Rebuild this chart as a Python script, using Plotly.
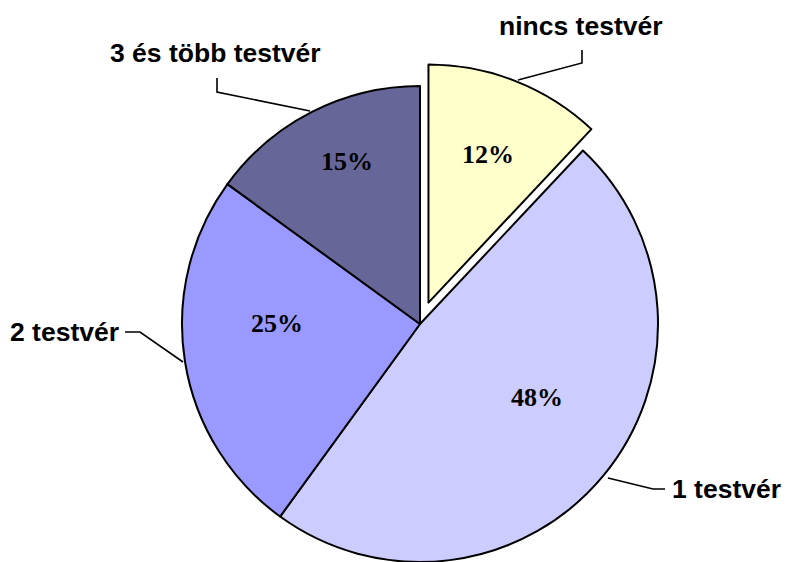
import math
import plotly.graph_objects as go

# ---- data ----
categories = ["nincs testvér", "1 testvér", "2 testvér", "3 és több testvér"]
values = [12, 48, 25, 15]
pct_labels = ["12%", "48%", "25%", "15%"]

# ---- style / layout constants ----
W, H = 786, 562
colors = ["#FFFFCC", "#CCCCFF", "#9999FF", "#666699"]
CX, CY, R = 420.0, 324.0, 238.0           # main pie centre / radius (px)
PULL_PX = 23.0                            # exploded distance of first slice (px)
EDGE = "black"
EDGE_W = 2.0
TRANSPARENT = "rgba(0,0,0,0)"

total = sum(values)
# mid angle of the exploded slice (clockwise from 12 o'clock)
mid0 = math.radians(values[0] / total * 360 / 2)
PCX = CX + PULL_PX * math.sin(mid0)
PCY = CY - PULL_PX * math.cos(mid0)


def domain(cx, cy, r):
    return dict(x=[max(0, (cx - r) / W), min(1, (cx + r) / W)],
                y=[max(0, (H - (cy + r)) / H), min(1, (H - (cy - r)) / H)])


def px(x, y):
    # pixel -> paper coords
    return x / W, (H - y) / H


fig = go.Figure()
# main pie (exploded slice hidden)
fig.add_trace(go.Pie(
    labels=categories, values=values, sort=False, direction="clockwise",
    rotation=0, textinfo="none", hoverinfo="label+percent",
    marker=dict(colors=[TRANSPARENT] + colors[1:],
                line=dict(color=[TRANSPARENT, EDGE, EDGE, EDGE],
                          width=[0, EDGE_W, EDGE_W, EDGE_W])),
    domain=domain(CX, CY, R), showlegend=False,
))
# exploded slice
fig.add_trace(go.Pie(
    labels=categories, values=values, sort=False, direction="clockwise",
    rotation=0, textinfo="none", hoverinfo="label+percent",
    marker=dict(colors=[colors[0]] + [TRANSPARENT] * 3,
                line=dict(color=[EDGE] + [TRANSPARENT] * 3,
                          width=[EDGE_W, 0, 0, 0])),
    domain=domain(PCX, PCY, R), showlegend=False,
))

# percentage labels (pixel anchor positions)
pct_pos = [(488, 154), (537, 397), (277, 323), (347, 162)]
annotations = []
for txt, (x, y) in zip(pct_labels, pct_pos):
    ax, ay = px(x, y)
    annotations.append(dict(
        x=ax, y=ay, xref="paper", yref="paper", text=txt, showarrow=False,
        xanchor="center", yanchor="middle",
        font=dict(family="Liberation Serif, Times New Roman, serif", size=26,
                  color="black", weight="bold")))

# category labels with leader lines
cat_pos = [(580.5, 26, "center"), (670, 489, "left"), (121, 332, "right"),
           (215.5, 53, "center")]
for txt, (x, y, anc) in zip(categories, cat_pos):
    ax, ay = px(x, y)
    annotations.append(dict(
        x=ax, y=ay, xref="paper", yref="paper", text=txt, showarrow=False,
        xanchor=anc, yanchor="middle",
        font=dict(family="Liberation Sans, Arial, sans-serif", size=26.5,
                  color="black", weight="bold")))

leaders = [
    [(518, 80), (582, 63), (582, 50)],
    [(608, 478), (653, 489), (665, 489)],
    [(125, 332), (140, 332), (183, 362)],
    [(217, 78), (217, 92), (310, 111)],
]
shapes = []
for pts in leaders:
    path = ""
    for i, (x, y) in enumerate(pts):
        a, b = px(x, y)
        path += ("M" if i == 0 else "L") + f"{a:.5f},{b:.5f} "
    shapes.append(dict(type="path", path=path.strip(), xref="paper",
                       yref="paper", line=dict(color="black", width=1.6)))

fig.update_layout(
    width=W, height=H, margin=dict(l=0, r=0, t=0, b=0),
    paper_bgcolor="white", plot_bgcolor="white",
    annotations=annotations, shapes=shapes,
)
fig.write_html(
    "out.html",
    config={"displayModeBar": False},
    post_script="document.body.style.margin='0';"
                "document.body.style.overflow='hidden';",
)
